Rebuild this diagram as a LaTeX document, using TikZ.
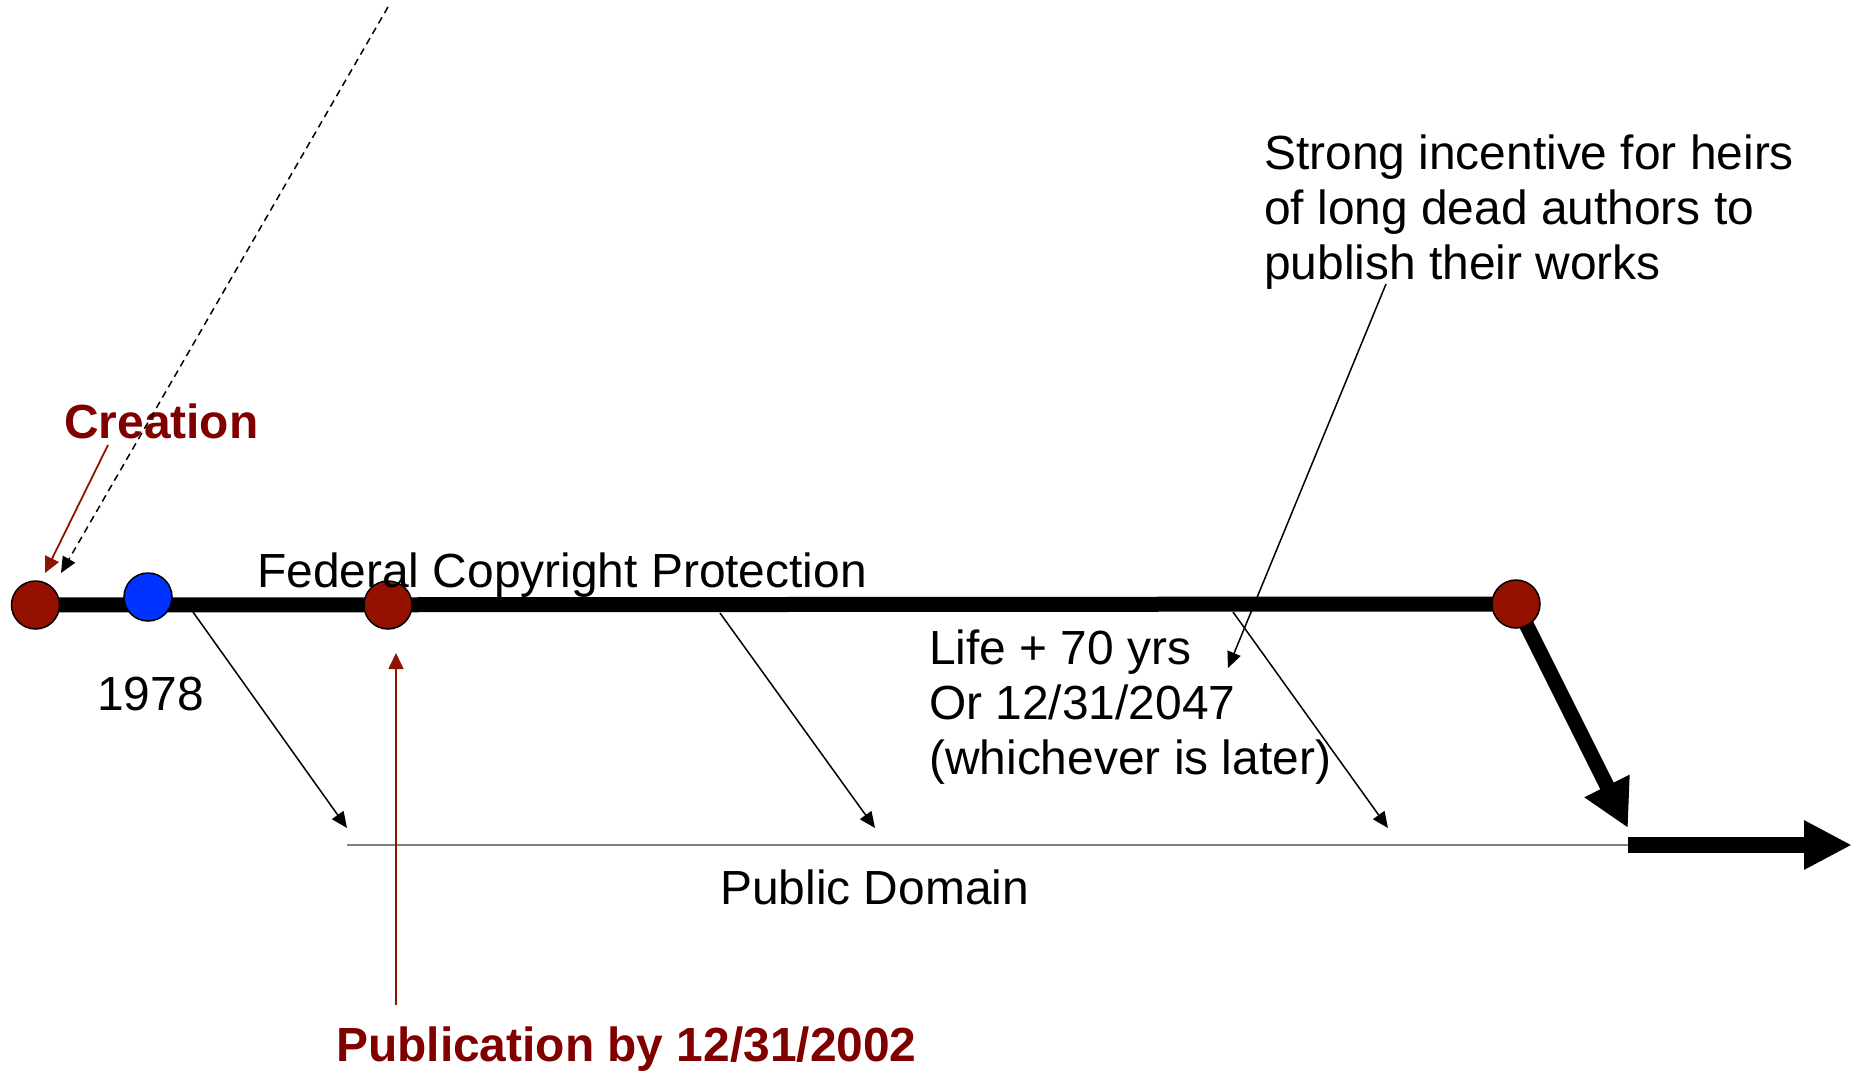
\documentclass[tikz,border=0pt]{standalone}
\usepackage{fontspec}
\setmainfont{Liberation Sans}
\usetikzlibrary{arrows.meta,backgrounds}
\definecolor{txtred}{RGB}{128,0,0}
\definecolor{dotred}{RGB}{148,17,0}
\definecolor{arrred}{RGB}{140,20,0}
\definecolor{dotblue}{RGB}{0,51,255}
\begin{document}
\begin{tikzpicture}[x=1pt,y=-1pt,
  dot/.style={circle,draw=black,line width=1.5pt,minimum size=48pt,inner sep=0pt},
  lbl/.style={inner sep=0pt,anchor=base west,font=\fontsize{47.9}{55}\selectfont,align=left},
  boldlbl/.style={inner sep=0pt,anchor=base west,font=\fontsize{47.9}{55}\selectfont\bfseries,text=txtred},
  thinarrow/.style={line width=1.5pt,-{Triangle[length=16pt,width=14pt]}},
  redarrow/.style={draw=arrred,line width=1.8pt,-{Triangle[length=16pt,width=15pt]}},
  fatarrow/.style={line width=15pt,-{Triangle[length=47pt,width=47pt]}},
]
\useasboundingbox (0,0) rectangle (1858,1071);

% timeline dots
\node[dot,fill=dotred] (c1) at (35.5,605) {};
\node[dot,fill=dotblue] (b1) at (148,597) {};
\node[dot,fill=dotred] (c2) at (388,605) {};
\node[dot,fill=dotred] (c3) at (1516,604) {};

% free ends
\coordinate (dn) at (1628,828);
\coordinate (pdL) at (347,845);
\coordinate (pdR) at (1628,845);
\coordinate (pdEnd) at (1852,845);
\coordinate (dashTop) at (388,7);
\coordinate (a1s) at (193,612);
\coordinate (a1e) at (347,828);
\coordinate (a2s) at (720,613);
\coordinate (a2e) at (875,828);
\coordinate (a3s) at (1233,612);
\coordinate (a3e) at (1388,828);
\coordinate (crS) at (108,445);
\coordinate (crTip) at (45,573);
\coordinate (dashTip) at (61,573);
\coordinate (pubS) at (396,1005);
\coordinate (pubTip) at (396,653);
\coordinate (strS) at (1386,284);
\coordinate (strTip) at (1228,668);

% texts (multi-line nodes: base = last line's baseline)
\node[boldlbl] (creation) at (64,438) {Creation};
\node[lbl] (federal) at (257,587) {Federal Copyright Protection};
\node[lbl] (y1978) at (97,710) {1978};
\node[lbl] (life) at (929,774) {Life + 70 yrs\\Or 12/31/2047\\(whichever is later)};
\node[lbl] (strong) at (1264,279) {Strong incentive for heirs\\of long dead authors to\\publish their works};
\node[lbl] (pd) at (720,904) {Public Domain};
\node[boldlbl] (pub) at (336,1061) {Publication by 12/31/2002};

\begin{pgfonlayer}{background}
  \draw[line width=15pt] (c1.center) -- (c3.center);
  \draw[fatarrow] (c3.center) -- (dn);
\end{pgfonlayer}

% public domain line and arrow
\draw[draw=gray,line width=2pt] (pdL) -- (pdR);
\draw[line width=16pt,-{Triangle[length=48pt,width=46pt]}] (pdR) -- (pdEnd);

% thin arrows to public domain
\draw[thinarrow] (a1s) -- (a1e);
\draw[thinarrow] (a2s) -- (a2e);
\draw[thinarrow] (a3s) -- (a3e);

% creation arrows
\draw[redarrow] (crS) -- (crTip);
\draw[line width=1.5pt,dash pattern=on 7pt off 5pt,-{Triangle[length=16pt,width=14pt]}] (dashTop) -- (dashTip);

% publication arrow
\draw[redarrow] (pubS) -- (pubTip);

% strong incentive arrow
\draw[thinarrow] (strS) -- (strTip);
\end{tikzpicture}
\end{document}
